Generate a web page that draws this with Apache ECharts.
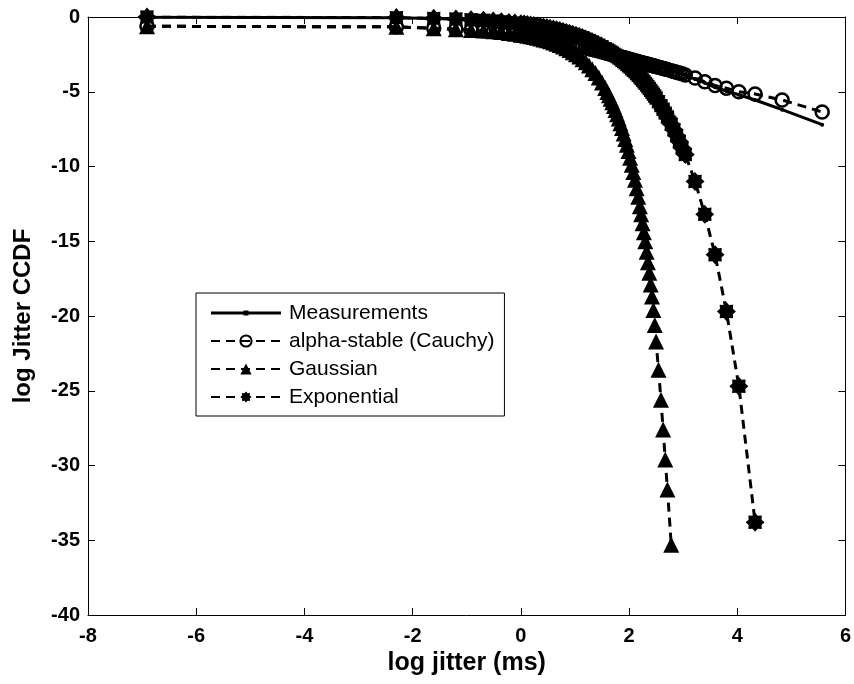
<!DOCTYPE html>
<html><head><meta charset="utf-8">
<script src="https://cdn.jsdelivr.net/npm/echarts@6/dist/echarts.min.js"></script>
<style>html,body{margin:0;padding:0;background:#fff}#c{width:854px;height:684px}</style>
</head><body><div id="c"></div>
<script>
// shared sample positions: log jitter (ms)
const logJitter = [
  -6.91, -2.30, -1.61, -1.20, -0.92, -0.69, -0.51, -0.36, -0.22, -0.11, 0.00,
  0.06, 0.12, 0.18, 0.24, 0.30, 0.36, 0.42, 0.48, 0.54, 0.60, 0.66, 0.72, 0.78, 0.84, 0.90, 0.96, 1.02, 1.08, 1.14, 1.20, 1.26, 1.32, 1.38, 1.44, 1.50, 1.56,
  1.60, 1.63, 1.66, 1.69, 1.72, 1.75, 1.78, 1.81, 1.84, 1.87, 1.90, 1.93, 1.96, 1.99, 2.02, 2.05, 2.08, 2.11, 2.14, 2.17, 2.20,
  2.225, 2.25, 2.275, 2.30, 2.325, 2.35, 2.375, 2.40, 2.425, 2.45, 2.475, 2.50,
  2.545, 2.59, 2.63, 2.67, 2.71, 2.78,
  2.83, 2.88, 2.93, 2.98,
  3.04, 3.22, 3.40, 3.59, 3.80, 4.03, 4.33, 4.83, 5.57
];
const measurements = [
  -0.01, -0.05, -0.10, -0.15, -0.20, -0.27, -0.33, -0.40, -0.47, -0.54, -0.62,
  -0.67, -0.72, -0.77, -0.83, -0.88, -0.93, -0.98, -1.04, -1.09, -1.14, -1.19, -1.25, -1.30, -1.36, -1.41, -1.47, -1.52, -1.58, -1.63, -1.69, -1.74, -1.80, -1.85, -1.90, -1.95, -2.00,
  -2.03, -2.07, -2.11, -2.15, -2.19, -2.23, -2.27, -2.31, -2.35, -2.39, -2.43, -2.48, -2.52, -2.56, -2.60, -2.64, -2.68, -2.72, -2.76, -2.80, -2.85,
  -2.88, -2.91, -2.94, -2.97, -3.00, -3.03, -3.06, -3.09, -3.12, -3.15, -3.18, -3.21,
  -3.26, -3.31, -3.36, -3.41, -3.46, -3.54,
  -3.60, -3.66, -3.73, -3.80,
  -3.90, -4.15, -4.40, -4.70, -4.95, -5.20, -5.55, -6.20, -7.20
];
const alphaStable = [
  -0.62, -0.66, -0.75, -0.82, -0.88, -0.94, -0.99, -1.04, -1.10, -1.14, -1.20,
  -1.23, -1.26, -1.29, -1.33, -1.36, -1.40, -1.44, -1.48, -1.52, -1.57, -1.61, -1.66, -1.71, -1.75, -1.80, -1.85, -1.91, -1.96, -2.01, -2.06, -2.12, -2.17, -2.23, -2.28, -2.34, -2.40,
  -2.43, -2.46, -2.49, -2.52, -2.55, -2.58, -2.61, -2.64, -2.67, -2.69, -2.72, -2.75, -2.78, -2.81, -2.84, -2.87, -2.90, -2.93, -2.96, -2.99, -3.02,
  -3.04, -3.07, -3.09, -3.12, -3.14, -3.16, -3.19, -3.21, -3.24, -3.26, -3.29, -3.31,
  -3.36, -3.40, -3.44, -3.48, -3.52, -3.59,
  -3.64, -3.69, -3.74, -3.79,
  -3.88, -4.08, -4.33, -4.58, -4.76, -5.00, -5.15, -5.55, -6.35
];
const gaussian = [
  -0.62, -0.66, -0.76, -0.82, -0.87, -0.91, -0.96, -1.01, -1.07, -1.12, -1.18,
  -1.21, -1.25, -1.29, -1.34, -1.39, -1.44, -1.50, -1.56, -1.63, -1.71, -1.79, -1.88, -1.98, -2.09, -2.21, -2.35, -2.49, -2.65, -2.83, -3.03, -3.25, -3.49, -3.75, -4.05, -4.38, -4.75,
  -5.02, -5.23, -5.46, -5.70, -5.95, -6.22, -6.50, -6.79, -7.10, -7.43, -7.79, -8.16, -8.55, -8.97, -9.41, -9.88, -10.37, -10.89, -11.45, -12.03, -12.66,
  -13.2, -13.8, -14.4, -15.0, -15.7, -16.4, -17.1, -17.9, -18.7, -19.6, -20.6, -21.7,
  -23.6, -25.6, -27.6, -29.6, -31.6, -35.3,
  null, null, null, null,
  null, null, null, null, null, null, null, null, null
];
const exponential = [
  0.00, -0.04, -0.09, -0.13, -0.18, -0.22, -0.27, -0.31, -0.36, -0.40, -0.45,
  -0.47, -0.50, -0.53, -0.57, -0.60, -0.64, -0.68, -0.72, -0.76, -0.81, -0.86, -0.91, -0.97, -1.03, -1.10, -1.16, -1.23, -1.31, -1.39, -1.48, -1.57, -1.67, -1.77, -1.88, -1.99, -2.12,
  -2.20, -2.27, -2.34, -2.41, -2.49, -2.56, -2.64, -2.72, -2.80, -2.89, -2.98, -3.07, -3.16, -3.26, -3.35, -3.46, -3.56, -3.67, -3.78, -3.90, -4.02,
  -4.12, -4.22, -4.33, -4.44, -4.55, -4.67, -4.78, -4.91, -5.03, -5.16, -5.29, -5.42,
  -5.67, -5.93, -6.17, -6.43, -6.69, -7.17,
  -7.54, -7.93, -8.33, -8.76,
  -9.2, -11.0, -13.2, -15.9, -19.7, -24.7, -33.8, null, null
];
const xTicks = { min: -8, max: 6, interval: 2 };
const yTicks = { min: -40, max: 0, interval: 5 };
const seriesNames = ['Measurements', 'alpha-stable (Cauchy)', 'Gaussian', 'Exponential'];

function pts(ys) {
  const out = [];
  logJitter.forEach((x, i) => { if (ys[i] !== null) out.push([x, ys[i]]); });
  return out;
}
const starPath = 'path://M10 0 L6.8 2.8 L7.07 7.07 L2.8 6.8 L0 10 L-2.8 6.8 L-7.07 7.07 L-6.8 2.8 L-10 0 L-6.8 -2.8 L-7.07 -7.07 L-2.8 -6.8 L0 -10 L2.8 -6.8 L7.07 -7.07 L6.8 -2.8 Z';
// legend icon for the measurement line: thick line with a small dot, padded to the icon box
const measIcon = 'path://M0 0 L0.01 0 L0 0.01 Z M0 14 L0.01 14 L0 13.99 Z M0 5.6 L32.5 5.6 L32.5 4.5 L37.5 4.5 L37.5 5.6 L70 5.6 L70 8.4 L37.5 8.4 L37.5 9.5 L32.5 9.5 L32.5 8.4 L0 8.4 Z';
const FONT = 'Liberation Sans, Arial, sans-serif';
const chart = echarts.init(document.getElementById('c'));
const dash = [9, 6];
const axisCommon = {
  axisLine: { show: true, onZero: false, lineStyle: { color: '#000', width: 1 } },
  axisTick: { show: true, inside: true, length: 7, lineStyle: { color: '#000' } },
  splitLine: { show: false }
};
chart.setOption({
  animation: false,
  backgroundColor: '#fff',
  grid: { left: 88, right: 8, top: 17, bottom: 69 },
  legend: {
    orient: 'vertical', left: 196, top: 293,
    data: [
      { name: seriesNames[0], icon: measIcon },
      seriesNames[1], seriesNames[2], seriesNames[3]
    ],
    itemWidth: 70, itemHeight: 14, itemGap: 6,
    padding: [9, 10, 8, 14],
    borderColor: '#000', borderWidth: 1, backgroundColor: '#fff',
    textStyle: { fontFamily: FONT, fontSize: 21, color: '#000', lineHeight: 22, padding: [0, 0, 0, 3] }
  },
  xAxis: [
    Object.assign({ type: 'value', position: 'bottom', min: xTicks.min, max: xTicks.max, interval: xTicks.interval,
      name: 'log jitter (ms)', nameLocation: 'middle', nameGap: 35,
      nameTextStyle: { fontFamily: FONT, fontSize: 25, fontWeight: 'bold', color: '#000' },
      axisLabel: { fontFamily: FONT, fontSize: 20, fontWeight: 'bold', color: '#000', margin: 11 } }, axisCommon),
    Object.assign({ type: 'value', position: 'top', min: xTicks.min, max: xTicks.max, interval: xTicks.interval,
      axisLabel: { show: false } }, axisCommon)
  ],
  yAxis: [
    Object.assign({ type: 'value', position: 'left', min: yTicks.min, max: yTicks.max, interval: yTicks.interval,
      name: 'log Jitter CCDF', nameLocation: 'middle', nameGap: 53,
      nameTextStyle: { fontFamily: FONT, fontSize: 24, fontWeight: 'bold', color: '#000' },
      axisLabel: { fontFamily: FONT, fontSize: 20, fontWeight: 'bold', color: '#000', margin: 8 } }, axisCommon),
    Object.assign({ type: 'value', position: 'right', min: yTicks.min, max: yTicks.max, interval: yTicks.interval,
      axisLabel: { show: false } }, axisCommon)
  ],
  series: [
    { name: seriesNames[0], type: 'line', data: pts(measurements), symbol: 'circle', symbolSize: 4,
      itemStyle: { color: '#000' }, lineStyle: { color: '#000', width: 3, type: 'solid' } },
    { name: seriesNames[1], type: 'line', data: pts(alphaStable), symbol: 'circle', symbolSize: 13,
      itemStyle: { color: 'rgba(255,255,255,0)', borderColor: '#000', borderWidth: 2.5 },
      lineStyle: { color: '#000', width: 3, type: dash } },
    { name: seriesNames[2], type: 'line', data: pts(gaussian), symbol: 'triangle', symbolSize: 16,
      itemStyle: { color: '#000' }, lineStyle: { color: '#000', width: 3, type: dash } },
    { name: seriesNames[3], type: 'line', data: pts(exponential), symbol: starPath, symbolSize: 19,
      itemStyle: { color: '#000' }, lineStyle: { color: '#000', width: 3, type: dash } }
  ]
});
</script>
</body></html>
